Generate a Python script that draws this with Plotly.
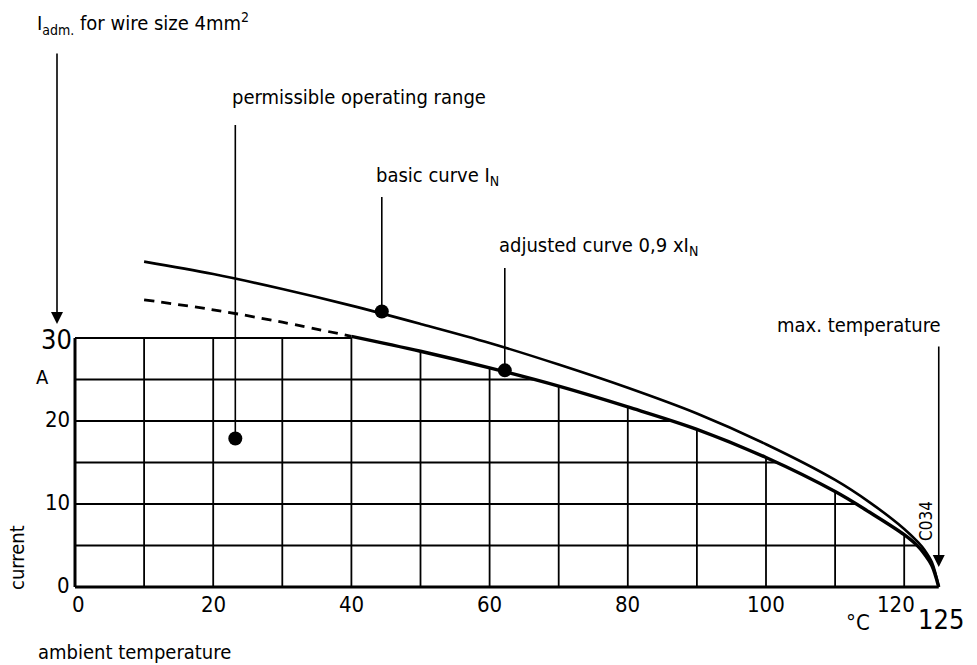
import numpy as np
import plotly.graph_objects as go

# ---------------- data ----------------
temp = [10, 20, 30, 40, 50, 60, 70, 80, 90, 100, 110, 115, 120, 122, 123, 124, 125]
basic_curve = [39.2, 37.7, 35.9, 33.9, 31.7, 29.4, 26.8, 24.0, 20.9, 17.2, 12.9, 10.2, 7.0, 5.4, 4.4, 3.0, 0.0]
adjusted_curve = [34.6, 33.4, 31.9, 30.2, 28.4, 26.4, 24.2, 21.7, 19.0, 15.6, 11.5, 9.0, 6.3, 4.9, 3.9, 2.6, 0.0]
dashed_until = 40          # adjusted curve is dashed up to this temperature
i_adm = 30                 # admissible current for 4 mm^2 wire
t_max = 125                # max temperature

grid_x = [10, 20, 30, 40, 50, 60, 70, 80, 90, 100, 110, 120]
grid_y = [5, 10, 15, 20, 25, 30]

x_tick_vals = [0, 20, 40, 60, 80, 100, 120]
y_tick_vals = [0, 10, 20]

point_operating = (23.2, 17.9)
point_basic = (44.4, 33.2)
point_adjusted = (62.2, 26.1)

# ---------------- layout geometry (pixels) ----------------
W, H = 977, 665
X0, XS = 75.0, 6.91     # pixel of x=0, pixels per degree
Y0, YS = 587.0, 8.3     # pixel of y=0, pixels per ampere
FONT = "Liberation Sans Narrow, DejaVu Sans Condensed, Liberation Sans, Arial, sans-serif"


def dy(py):
    return (Y0 - py) / YS


def dx(px):
    return (px - X0) / XS


def P(px, py):
    return px / W, 1 - py / H


t = np.array(temp, dtype=float)
adj = np.array(adjusted_curve, dtype=float)
limit = np.minimum(adj, i_adm)

fig = go.Figure()


def seg(xs, ys, width, dash="solid", color="black", shape="linear"):
    fig.add_trace(go.Scatter(x=xs, y=ys, mode="lines", hoverinfo="skip",
                             line=dict(color=color, width=width, dash=dash,
                                       shape=shape, smoothing=1.0 if shape == "spline" else None),
                             showlegend=False))


# grid clipped below the permissible range
for gx in grid_x:
    top = float(np.interp(gx, t, limit)) if gx >= t[0] else i_adm
    seg([gx, gx], [0, top], 1.8)
for gy in grid_y:
    right = float(np.interp(gy, adj[::-1], t[::-1]))
    if gy >= i_adm:
        right = dashed_until
    seg([0, right], [gy, gy], 1.8)

# axes
seg([0, 0], [0, i_adm], 3)
seg([0, t_max], [0, 0], 3)

# basic curve
seg(temp, basic_curve, 2.6, shape="spline")
# adjusted curve: dashed part + solid part
d_idx = [i for i, v in enumerate(temp) if v <= dashed_until]
s_idx = [i for i, v in enumerate(temp) if v >= dashed_until]
seg([temp[i] for i in d_idx], [adjusted_curve[i] for i in d_idx], 2.8, dash="10px,7px", shape="spline")
seg([temp[i] for i in s_idx], [adjusted_curve[i] for i in s_idx], 3.4, shape="spline")

# pointer lines
seg([point_operating[0]] * 2, [point_operating[1], dy(125)], 1.6)
seg([point_basic[0]] * 2, [point_basic[1], dy(197)], 1.6)
seg([point_adjusted[0]] * 2, [point_adjusted[1], dy(268)], 1.6)

# dots
fig.add_trace(go.Scatter(
    x=[point_operating[0], point_basic[0], point_adjusted[0]],
    y=[point_operating[1], point_basic[1], point_adjusted[1]],
    mode="markers", marker=dict(color="black", size=14),
    hoverinfo="skip", showlegend=False))

ann = []


def label(text, px, py, size=20, xanchor="left", yanchor="middle", angle=0):
    x, y = P(px, py)
    ann.append(dict(text=text, x=x, y=y, xref="paper", yref="paper",
                    xanchor=xanchor, yanchor=yanchor, showarrow=False,
                    textangle=angle, font=dict(family=FONT, size=size, color="black")))


# arrows
ann.append(dict(x=dx(57), y=dy(324), ax=dx(57), ay=dy(52), xref="x", yref="y",
                axref="x", ayref="y", text="", showarrow=True, arrowhead=2,
                arrowsize=1.5, arrowwidth=1.6, arrowcolor="black", standoff=0))
ann.append(dict(x=t_max, y=dy(567), ax=t_max, ay=dy(345), xref="x", yref="y",
                axref="x", ayref="y", text="", showarrow=True, arrowhead=2,
                arrowsize=1.5, arrowwidth=1.6, arrowcolor="black", standoff=0))

# texts
label("I<sub>adm.</sub> for wire size 4mm<sup>2</sup>", 35, 24)
label("permissible operating range", 230, 97)
label("basic curve I<sub>N</sub>", 374, 176)
label("adjusted curve 0,9 xI<sub>N</sub>", 497, 246)
label("max. temperature", 775, 325)
label("current", 17, 558, angle=-90, xanchor="center")
label("ambient temperature", 36, 652)
label("C034", 926, 521, size=17, angle=-90, xanchor="center")

# y tick labels
label(str(i_adm), 74, 339, size=27, xanchor="right")
label("A", 42, 377, size=20, xanchor="center")
for v in y_tick_vals:
    label(str(v), 72, Y0 - v * YS - 2, size=22, xanchor="right")
# x tick labels
for v in x_tick_vals:
    px = X0 + v * XS
    if v == 0:
        px += 3
    if v == 120:
        px -= 8
    label(str(v), px, 604, size=22, xanchor="center")
label("°C", 858, 622, size=22, xanchor="center")
label(str(t_max), 941, 619, size=27, xanchor="center")

fig.update_layout(
    width=W, height=H, margin=dict(l=0, r=0, t=0, b=0),
    paper_bgcolor="white", plot_bgcolor="white",
    xaxis=dict(range=[-X0 / XS, (W - X0) / XS], visible=False, fixedrange=True),
    yaxis=dict(range=[-(H - Y0) / YS, Y0 / YS], visible=False, fixedrange=True),
    annotations=ann, showlegend=False,
)

fig.write_html("out.html")
